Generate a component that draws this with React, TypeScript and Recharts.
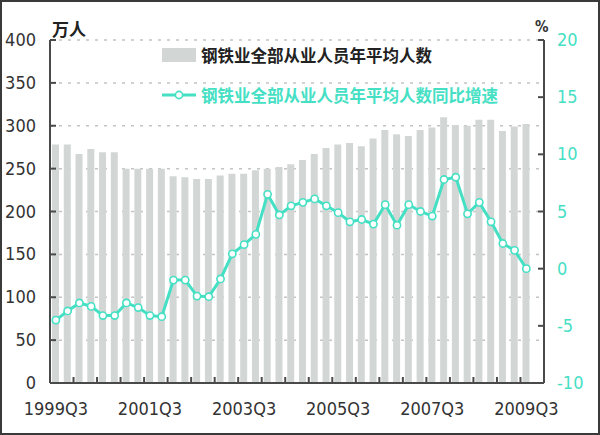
import React from 'react';
import { ComposedChart, Bar, Line, XAxis, YAxis, CartesianGrid, Legend } from 'recharts';

const quarters = [
  '1999Q3', '1999Q4',
  '2000Q1', '2000Q2', '2000Q3', '2000Q4',
  '2001Q1', '2001Q2', '2001Q3', '2001Q4',
  '2002Q1', '2002Q2', '2002Q3', '2002Q4',
  '2003Q1', '2003Q2', '2003Q3', '2003Q4',
  '2004Q1', '2004Q2', '2004Q3', '2004Q4',
  '2005Q1', '2005Q2', '2005Q3', '2005Q4',
  '2006Q1', '2006Q2', '2006Q3', '2006Q4',
  '2007Q1', '2007Q2', '2007Q3', '2007Q4',
  '2008Q1', '2008Q2', '2008Q3', '2008Q4',
  '2009Q1', '2009Q2', '2009Q3', '2009Q4',
];

// 万人
const employees = [
  278, 278, 267, 273, 269, 269, 250, 250, 250, 250,
  241, 240, 238, 238, 242, 244, 244, 248, 250, 252,
  255, 260, 267, 274, 278, 280, 276, 285, 295, 290,
  288, 295, 298, 310, 301, 300, 307, 307, 294, 299,
  302,
];

// %
const growth = [
  -4.5, -3.7, -3.0, -3.3, -4.1, -4.1, -3.0, -3.4, -4.1, -4.2,
  -1.0, -1.0, -2.4, -2.45, -0.9, 1.3, 2.1, 3.0, 6.5, 4.7,
  5.5, 5.8, 6.1, 5.5, 4.9, 4.1, 4.3, 3.9, 5.6, 3.8,
  5.6, 5.0, 4.6, 7.8, 8.0, 4.8, 5.8, 4.1, 2.2, 1.6,
  0.0,
];

const leftTicks = [0, 50, 100, 150, 200, 250, 300, 350, 400];
const rightTicks = [-10, -5, 0, 5, 10, 15, 20];
const xLabels = ['1999Q3', '2001Q3', '2003Q3', '2005Q3', '2007Q3', '2009Q3'];

const barName = '钢铁业全部从业人员年平均人数';
const lineName = '钢铁业全部从业人员年平均人数同比增速';

const data = quarters.map((q, i) => ({
  q,
  emp: i < employees.length ? employees[i] : null,
  g: i < growth.length ? growth[i] : null,
}));

const W = 600;
const H = 435;
const LEFT_W = 50;
const RIGHT_W = 56;
const PLOT_W = W - LEFT_W - RIGHT_W;
const BAND = PLOT_W / quarters.length;

const TEAL = '#45e0c4';
const BAR = '#d2d7d5';
const AXIS = '#4a4a4a';
const NUM_FONT = "'Liberation Sans Narrow', 'DejaVu Sans Condensed', 'Liberation Sans', sans-serif";
const CJK_FONT = "'Noto Sans CJK SC', 'Noto Sans', sans-serif";

const LeftTick = (props: any) => {
  const { x, y, payload } = props;
  return (
    <g>
      <line x1={x} x2={x + 6} y1={y} y2={y} stroke={AXIS} strokeWidth={2} />
      <text x={x - 14} y={y} dy={6} textAnchor="end" fontSize={18} fontFamily={NUM_FONT} fill="#333">
        {payload.value}
      </text>
    </g>
  );
};

const RightTick = (props: any) => {
  const { x, y, payload } = props;
  return (
    <g>
      <line x1={x - 6} x2={x} y1={y} y2={y} stroke={AXIS} strokeWidth={2} />
      <text x={x + 13} y={y} dy={6} textAnchor="start" fontSize={18} fontFamily={NUM_FONT} fill={TEAL}>
        {payload.value}
      </text>
    </g>
  );
};

const BottomTick = (props: any) => {
  const { x, y, payload, index } = props;
  const bx = x - BAND / 2;
  return (
    <g>
      {index % 2 === 0 && (
        <line x1={bx} x2={bx} y1={y - 6} y2={y} stroke={AXIS} strokeWidth={2} />
      )}
      {xLabels.includes(payload.value) && (
        <text x={x} y={y + 32} textAnchor="middle" fontSize={18} fontFamily={NUM_FONT} fill="#333">
          {payload.value}
        </text>
      )}
    </g>
  );
};

const Dot = (props: any) => {
  const { cx, cy, value } = props;
  if (value == null || cx == null || cy == null) return <g />;
  return <circle cx={cx} cy={cy} r={3.6} fill="#fff" stroke={TEAL} strokeWidth={1.6} />;
};

const renderLegend = (props: any) => {
  const { payload } = props;
  return (
    <div style={{ fontFamily: CJK_FONT, fontWeight: 700, fontSize: 16.5 }}>
      {(payload || []).map((p: any, i: number) => (
        <div key={i} style={{ display: 'flex', alignItems: 'center', height: 22, marginBottom: i === 0 ? 18 : 0 }}>
          <svg width={34} height={16} style={{ marginRight: 5 }}>
            {p.type === 'rect' ? (
              <rect x={0} y={1} width={34} height={14} fill={BAR} />
            ) : (
              <g>
                <line x1={0} x2={34} y1={8} y2={8} stroke={TEAL} strokeWidth={3} />
                <circle cx={17} cy={8} r={3.6} fill="#fff" stroke={TEAL} strokeWidth={1.6} />
              </g>
            )}
          </svg>
          <span style={{ color: p.type === 'rect' ? '#222' : TEAL, whiteSpace: 'nowrap' }}>{p.value}</span>
        </div>
      ))}
    </div>
  );
};

export default function App() {
  return (
    <div style={{ position: 'fixed', left: 0, top: 0, width: W, height: H, background: '#fff' }}>
      <ComposedChart
        width={W}
        height={H}
        data={data}
        margin={{ top: 40, right: 0, bottom: 22, left: 0 }}
        barCategoryGap={0}
      >
        <CartesianGrid
          yAxisId="left"
          vertical={false}
          stroke="#c4c4c4"
          strokeDasharray="3 6"
          strokeWidth={1.5}
        />
        <XAxis
          dataKey="q"
          interval={0}
          tickLine={false}
          tickSize={0}
          tickMargin={0}
          height={30}
          axisLine={{ stroke: AXIS, strokeWidth: 2 }}
          tick={<BottomTick />}
        />
        <YAxis
          yAxisId="left"
          orientation="left"
          width={LEFT_W}
          domain={[0, 400]}
          ticks={leftTicks}
          interval={0}
          tickLine={false}
          tickSize={0}
          tickMargin={0}
          axisLine={{ stroke: AXIS, strokeWidth: 2 }}
          tick={<LeftTick />}
        />
        <YAxis
          yAxisId="right"
          orientation="right"
          width={RIGHT_W}
          domain={[-10, 20]}
          ticks={rightTicks}
          interval={0}
          tickLine={false}
          tickSize={0}
          tickMargin={0}
          axisLine={{ stroke: AXIS, strokeWidth: 2 }}
          tick={<RightTick />}
        />
        <Legend
          layout="vertical"
          align="center"
          verticalAlign="middle"
          content={renderLegend}
          wrapperStyle={{ left: 162, top: 44, width: 380, height: 70 }}
        />
        <Bar
          yAxisId="left"
          dataKey="emp"
          name={barName}
          fill={BAR}
          barSize={7}
          legendType="rect"
          isAnimationActive={false}
        />
        <Line
          yAxisId="right"
          dataKey="g"
          name={lineName}
          type="linear"
          stroke={TEAL}
          strokeWidth={3}
          dot={<Dot />}
          activeDot={false}
          legendType="line"
          isAnimationActive={false}
        />
      </ComposedChart>
      <div style={{ position: 'absolute', left: 52, top: 16, fontFamily: CJK_FONT, fontWeight: 700, fontSize: 17, color: '#222' }}>
        万人
      </div>
      <div style={{ position: 'absolute', left: 535, top: 18, fontFamily: NUM_FONT, fontWeight: 700, fontSize: 15, color: '#333' }}>
        %
      </div>
      <div style={{ position: 'absolute', left: 0, top: 0, width: W, height: H, boxSizing: 'border-box', border: '2px solid #3a3a3a', pointerEvents: 'none' }} />
    </div>
  );
}
